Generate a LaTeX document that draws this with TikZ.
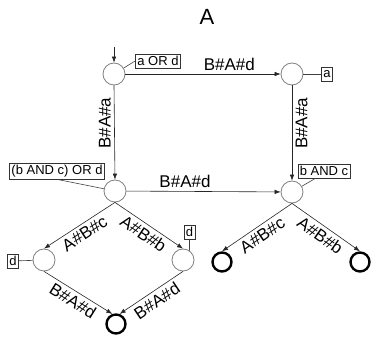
\documentclass[tikz,border=0pt]{standalone}
\usepackage{fontspec}
\setmainfont{Liberation Sans}
\usepackage{tikz}
\usetikzlibrary{arrows.meta}

\begin{document}
\begin{tikzpicture}[x=1pt,y=1pt]
  \tikzstyle{every node}=[font=\fontsize{17}{19}\selectfont]
  \tikzstyle{state}=[circle, draw=gray, line width=0.8pt, minimum size=22pt, inner sep=0pt]
  \tikzstyle{final}=[circle, draw=black, line width=2.4pt, minimum size=19pt, inner sep=0pt]
  \tikzstyle{tag}=[draw=black!80, line width=0.6pt, font=\fontsize{13}{15}\selectfont, inner sep=2pt, minimum height=14pt]
  \tikzstyle{trans}=[draw=black!85, line width=0.6pt, -{Latex[length=6pt,width=4.5pt]}]
  \tikzstyle{link}=[draw=black!75, line width=0.6pt]
  \useasboundingbox (0,0) rectangle (372,-342);
  \node (title) at (207,-17)[font=\fontsize{22}{24}\selectfont]{A};
  % states
  \node[state] (s0) at (114,-74){};
  \node[state] (s1) at (292,-74){};
  \node[state] (s2) at (115,-191){};
  \node[state] (s3) at (292,-192){};
  \node[state] (s4) at (44,-260){};
  \node[state] (s5) at (183,-260){};
  \node[final] (s6) at (116,-324){};
  \node[final] (s7) at (222,-262){};
  \node[final] (s8) at (360,-262){};
  % conditions
  \node[tag] (c0) at (158,-61){a OR d};
  \node[tag] (c1) at (327,-74){a};
  \node[tag] (c2) at (57,-171){(b AND c) OR d};
  \node[tag] (c3) at (324,-171){b AND c};
  \node[tag] (c4) at (13,-261){d};
  \node[tag] (c5) at (189.5,-232){d};
  \draw[link] (s0) -- (c0.west);
  \draw[link] (s1) -- (c1);
  \draw[link] (c2.south) -- (s2);
  \draw[link] (s3) -- ([xshift=18pt]c3.south west);
  \draw[link] (c4) -- (s4);
  \draw[link] (c5.south) -- (s5.55);
  % transitions
  \coordinate (init) at (114,-47);
  \draw[trans] (init) -- (s0);
  \draw[trans] (s0) -- node[pos=0.67, above]{B\#A\#d} (s1);
  \draw[trans] (s0.south) -- node[pos=0.4, rotate=90, above]{B\#A\#a} (s2.north);
  \draw[trans] (s1.south) -- node[pos=0.4, rotate=90, below]{B\#A\#a} (s3.north);
  \draw[trans] (s2) -- node[pos=0.38, above]{B\#A\#d} (s3);
  \draw[trans] (s2.south) -- node[sloped, below]{A\#B\#c} (s4.north);
  \draw[trans] (s2.south) -- node[sloped, below]{A\#B\#b} (s5.north);
  \draw[trans] (s4.south) -- node[sloped, below]{B\#A\#d} (s6.110);
  \draw[trans] (s5.south) -- node[sloped, below]{B\#A\#d} (s6.70);
  \draw[trans] (s3.south) -- node[sloped, below]{A\#B\#c} (s7.north);
  \draw[trans] (s3.south) -- node[sloped, below]{A\#B\#b} (s8.north);
\end{tikzpicture}
\end{document}
